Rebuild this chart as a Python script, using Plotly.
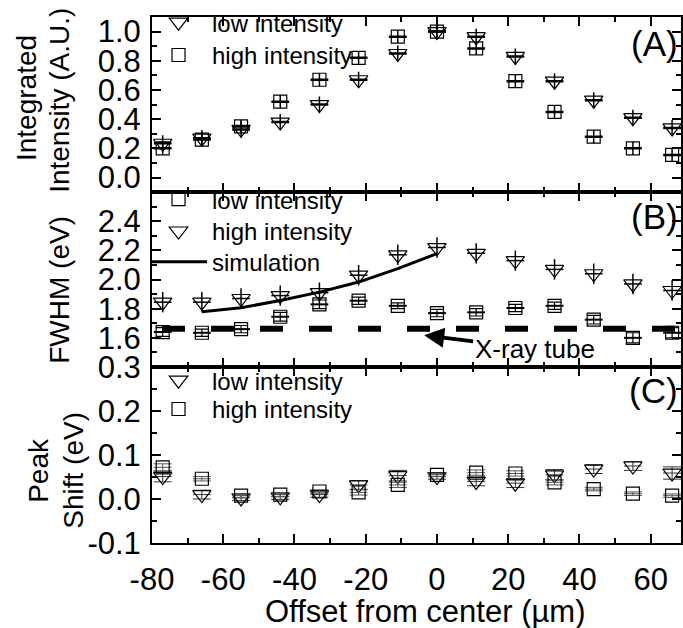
import plotly.graph_objects as go

# ---------------- data ----------------
offset = [-77, -66, -55, -44, -33, -22, -11, 0, 11, 22, 33, 44, 55, 66]
offset_err = [2.5] * 14

# (A) integrated intensity
int_low = [0.235, 0.27, 0.33, 0.38, 0.50, 0.67, 0.85, 1.0, 0.965, 0.83, 0.66, 0.53, 0.41, 0.34]
int_high = [0.20, 0.26, 0.35, 0.52, 0.67, 0.82, 0.965, 1.0, 0.885, 0.66, 0.45, 0.28, 0.20, 0.155]
int_low_err = [0.055] * 14
int_high_err = [0.045] * 14

# (B) FWHM
fwhm_low = [1.64, 1.635, 1.66, 1.745, 1.83, 1.855, 1.82, 1.77, 1.775, 1.805, 1.82, 1.725, 1.60, 1.635]
fwhm_high = [1.845, 1.845, 1.87, 1.89, 1.91, 2.03, 2.17, 2.22, 2.18, 2.13, 2.07, 2.04, 1.97, 1.925]
fwhm_low_err = [0.03, 0.025, 0.025, 0.03, 0.03, 0.025, 0.02, 0.025, 0.025, 0.025, 0.025, 0.03, 0.035, 0.035]
fwhm_high_err = [0.07] * 14
sim_x = [-66, -55, -44, -33, -22, -11, 0]
sim_y = [1.78, 1.806, 1.857, 1.914, 1.983, 2.075, 2.178]
xray_tube = 1.662

# (C) peak shift
shift_low = [0.051, 0.01, 0.0025, 0.005, 0.01, 0.032, 0.053, 0.051, 0.04, 0.036, 0.055, 0.068, 0.075, 0.059]
shift_high = [0.072, 0.046, 0.0075, 0.01, 0.017, 0.015, 0.032, 0.055, 0.06, 0.058, 0.038, 0.0225, 0.012, 0.0075]
shift_low_err = [0.012, 0.01, 0.006, 0.006, 0.006, 0.01, 0.012, 0.006, 0.01, 0.01, 0.012, 0.01, 0.01, 0.014]
shift_high_err = [0.008, 0.005, 0.004, 0.004, 0.004, 0.006, 0.006, 0.004, 0.006, 0.006, 0.006, 0.004, 0.004, 0.004]

# tick labels
x_ticks = [-80, -60, -40, -20, 0, 20, 40, 60]
x_ticklabels = ["-80", "-60", "-40", "-20", "0", "20", "40", "60"]
a_ticks = [0.0, 0.2, 0.4, 0.6, 0.8, 1.0]
a_ticklabels = ["0.0", "0.2", "0.4", "0.6", "0.8", "1.0"]
b_ticks = [1.6, 1.8, 2.0, 2.2, 2.4]
b_ticklabels = ["1.6", "1.8", "2.0", "2.2", "2.4"]
c_ticks = [-0.1, 0.0, 0.1, 0.2, 0.3]
c_ticklabels = ["-0.1", "0.0", "0.1", "0.2", "0.3"]

# ---------------- layout helpers ----------------
W, H = 683, 628
L, R, T, B = 152, 0, 14, 85
PW, PH = W - L - R, H - T - B


def fx(px):
    return (px - L) / PW


def fy(py):
    return (H - B - py) / PH


FONT = "Liberation Sans, Arial, sans-serif"
TICKF = dict(family=FONT, size=31, color="black")
LEGF = dict(family=FONT, size=24, color="black")

fig = go.Figure()


def pts(x, y, err, sym, size, name, xa, ya, leg, ecol="black", xth=2.5, yth=1.5, cap=0):
    fig.add_trace(go.Scatter(
        x=x, y=y, mode="markers", name=name,
        marker=dict(symbol=sym, size=size, color="black",
                    line=dict(color="black", width=1.2)),
        error_y=dict(type="data", array=err, visible=True, color=ecol,
                     thickness=yth, width=cap),
        error_x=dict(type="data", array=offset_err, visible=True, color=ecol,
                     thickness=xth, width=0),
        xaxis=xa, yaxis=ya, legend=leg))


TRI, SQ = 16, 13
# panel A
pts(offset, int_low, int_low_err, "triangle-down-open", TRI, "low intensity", "x", "y", "legend")
pts(offset, int_high, int_high_err, "square-open", SQ, "high intensity", "x", "y", "legend2")
# panel B
pts(offset, fwhm_low, fwhm_low_err, "square-open", SQ, "low intensity", "x2", "y2", "legend3",
    xth=2, yth=1.2, cap=7)
pts(offset, fwhm_high, fwhm_high_err, "triangle-down-open", TRI, "high intensity", "x2", "y2",
    "legend4", xth=1.5, yth=1.5)
fig.add_trace(go.Scatter(x=sim_x, y=sim_y, mode="lines", name="simulation",
                         line=dict(color="black", width=3), xaxis="x2", yaxis="y2",
                         legend="legend5"))
# panel C
pts(offset, shift_low, shift_low_err, "triangle-down-open", TRI, "low intensity", "x3", "y3", "legend6",
    ecol="#333", xth=1, yth=1, cap=9)
pts(offset, shift_high, shift_high_err, "square-open", SQ, "high intensity", "x3", "y3", "legend7",
    ecol="#555", xth=1, yth=1, cap=9)

# X-ray tube dashed reference line
fig.add_shape(type="line", xref="x2 domain", yref="y2", x0=0, x1=1, y0=xray_tube, y1=xray_tube,
              line=dict(color="black", width=6, dash="0px,10px,23px,16px"))

XR = [-80, 68.5]
dom = {"A": [0.667, 1.0], "B": [0.3346, 0.667], "C": [0.0, 0.3346]}


def xaxis(labels, anchor):
    d = dict(range=XR, showline=True, linecolor="black", linewidth=2, mirror="ticks",
             ticks="inside", ticklen=9, tickwidth=2, tickcolor="black",
             tickmode="array", tickvals=x_ticks, ticktext=x_ticklabels,
             minor=dict(ticks="inside", ticklen=5, tickwidth=1.5, dtick=10, tick0=0,
                        tickcolor="black"),
             showgrid=False, zeroline=False, anchor=anchor, showticklabels=labels,
             tickfont=TICKF)
    return d


def yaxis(rng, domain, anchor, tv, tt, mdt):
    d = dict(range=rng, domain=domain, showline=True, linecolor="black", linewidth=2,
             mirror="ticks", ticks="inside", ticklen=9, tickwidth=2, tickcolor="black",
             tickmode="array", tickvals=tv, ticktext=tt,
             minor=dict(ticks="inside", ticklen=5, tickwidth=1.5, dtick=mdt, tick0=0,
                        tickcolor="black"),
             showgrid=False, zeroline=False, anchor=anchor, tickfont=TICKF,
             ticklabelstandoff=3)
    return d


xa3 = xaxis(True, "y3")
xa3["ticklabelstandoff"] = 8


def leg(center_py):
    return dict(x=fx(145), y=fy(center_py - 25), xanchor="left", yanchor="top", font=LEGF,
                bgcolor="rgba(0,0,0,0)", itemwidth=57)


fig.update_layout(
    width=W, height=H, margin=dict(l=L, r=R, t=T, b=B),
    paper_bgcolor="white", plot_bgcolor="white",
    xaxis=xaxis(False, "y"), xaxis2=xaxis(False, "y2"), xaxis3=xa3,
    yaxis=yaxis([-0.1, 1.1], dom["A"], "x", a_ticks, a_ticklabels, 0.1),
    yaxis2=yaxis([1.4, 2.6], dom["B"], "x2", b_ticks, b_ticklabels, 0.1),
    yaxis3=yaxis([-0.1, 0.3], dom["C"], "x3", c_ticks, c_ticklabels, 0.05),
    legend=leg(22), legend2=leg(55),
    legend3=leg(200), legend4=leg(232), legend5=leg(263),
    legend6=leg(382), legend7=leg(411),
    showlegend=True,
)

ann = []
# x-axis title
ann.append(dict(text="Offset from center (µm)", x=fx(426), y=fy(612), xref="paper", yref="paper",
                xanchor="center", yanchor="middle", showarrow=False,
                font=dict(family=FONT, size=31, color="black")))
# panel labels
for lab, py in (("(A)", 41), ("(B)", 215), ("(C)", 390)):
    ann.append(dict(text=lab, x=fx(682), y=fy(py), xref="paper", yref="paper",
                    xanchor="right", yanchor="middle", showarrow=False,
                    font=dict(family=FONT, size=35, color="black")))
# y-axis titles
TF = dict(family=FONT, size=28, color="black")
for txt, px, py in (("Integrated", 26, 95), ("Intensity (A.U.)", 59, 98),
                    ("FWHM (eV)", 59, 288), ("Peak", 38, 470), ("Shift (eV)", 73, 470)):
    ann.append(dict(text=txt, x=fx(px), y=fy(py), xref="paper", yref="paper",
                    xanchor="center", yanchor="middle", textangle=-90, showarrow=False, font=TF))
# X-ray tube arrow
ann.append(dict(text="X-ray tube", x=-3.6, y=1.618, xref="x2", yref="y2",
                ax=27.4, ay=1.523, axref="x2", ayref="y2", showarrow=True,
                arrowhead=2, arrowsize=1, arrowwidth=4, arrowcolor="black", standoff=0,
                font=dict(family=FONT, size=26, color="black")))
fig.update_layout(annotations=ann)

fig.write_html("out.html")
